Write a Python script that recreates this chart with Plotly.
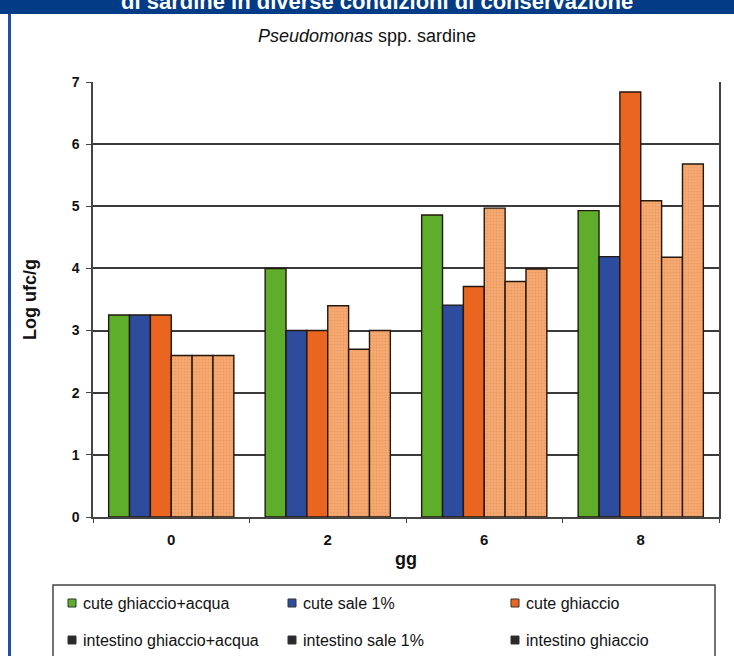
import plotly.graph_objects as go

# ---- data ----
days = ["0", "2", "6", "8"]
series_names = ["cute ghiaccio+acqua", "cute sale 1%", "cute ghiaccio",
                "intestino ghiaccio+acqua", "intestino sale 1%", "intestino ghiaccio"]
cute_ghiaccio_acqua = [3.25, 4.0, 4.86, 4.93]
cute_sale_1 = [3.25, 3.0, 3.41, 4.19]
cute_ghiaccio = [3.25, 3.0, 3.71, 6.84]
intestino_ghiaccio_acqua = [2.6, 3.4, 4.97, 5.09]
intestino_sale_1 = [2.6, 2.7, 3.79, 4.18]
intestino_ghiaccio = [2.6, 3.0, 3.99, 5.68]
y_ticks = [0, 1, 2, 3, 4, 5, 6, 7]

series_values = [cute_ghiaccio_acqua, cute_sale_1, cute_ghiaccio,
                 intestino_ghiaccio_acqua, intestino_sale_1, intestino_ghiaccio]
bar_colors = ["#5fae2b", "#2e4c9e", "#ea6520", "#f4a66d", "#f4a66d", "#f4a66d"]
legend_colors = ["#5fae2b", "#2e4c9e", "#ea6520", "#2a2a2a", "#2a2a2a", "#2a2a2a"]

W, H = 734, 656
L, R, T, B = 93, 719, 82, 517
PW, PH = R - L, B - T


def px(x):
    return (x - L) / PW


def py(y):
    return (B - y) / PH


FONT = "Liberation Sans, Arial, sans-serif"

fig = go.Figure()
for i, (name, vals) in enumerate(zip(series_names, series_values)):
    marker = dict(color=bar_colors[i], line=dict(color="#23170e", width=1.4))
    if i >= 3:
        marker["pattern"] = dict(shape=".", fgcolor="#de8a52", bgcolor="#f5a86f",
                                 size=3, solidity=0.25)
    fig.add_trace(go.Bar(x=days, y=vals, name=name, showlegend=False, marker=marker))

shapes = []
annotations = []

# top banner and left frame
shapes.append(dict(type="rect", xref="paper", yref="paper",
                   x0=px(-5), x1=px(W + 5), y0=py(14), y1=py(-5),
                   fillcolor="#023b86", line=dict(width=0), layer="above"))
shapes.append(dict(type="line", xref="paper", yref="paper",
                   x0=px(9.5), x1=px(9.5), y0=py(14), y1=py(H + 5),
                   line=dict(color="#1f4f9f", width=3)))
annotations.append(dict(xref="paper", yref="paper", x=px(377), y=py(16),
                        xanchor="center", yanchor="bottom", showarrow=False,
                        text="<b>di sardine in diverse condizioni di conservazione</b>",
                        font=dict(family=FONT, size=22, color="white")))

# legend box
shapes.append(dict(type="rect", xref="paper", yref="paper",
                   x0=px(53), x1=px(715), y0=py(H + 10), y1=py(585),
                   fillcolor="white", line=dict(color="#444444", width=1.5)))
col_x = [72, 292, 515]
row_y = [603, 640]
for i, name in enumerate(series_names):
    cx = col_x[i % 3]
    cy = row_y[i // 3]
    shapes.append(dict(type="rect", xref="paper", yref="paper",
                       x0=px(cx - 4), x1=px(cx + 4), y0=py(cy + 4), y1=py(cy - 4),
                       fillcolor=legend_colors[i], line=dict(color="#333333", width=1)))
    annotations.append(dict(xref="paper", yref="paper", x=px(cx + 9), y=py(cy),
                            xanchor="left", yanchor="middle", showarrow=False,
                            text=name, font=dict(family=FONT, size=16, color="#111111")))

fig.update_layout(
    width=W, height=H,
    margin=dict(l=L, r=W - R, t=T, b=H - B, pad=0),
    paper_bgcolor="white", plot_bgcolor="white",
    barmode="group", bargap=0.2, bargroupgap=0,
    title=dict(text="<i>Pseudomonas</i> spp. sardine", xref="container", x=0.5,
               yref="container", y=1 - 36 / H, xanchor="center", yanchor="middle",
               font=dict(family=FONT, size=18, color="#111111")),
    font=dict(family=FONT, color="#111111"),
    shapes=shapes, annotations=annotations,
)
fig.update_xaxes(
    type="category", showline=True, linecolor="#444444", linewidth=1.5,
    ticks="outside", tickson="boundaries", ticklen=4, tickcolor="#444444",
    tickfont=dict(family=FONT, size=15, color="#111111"),
    ticklabelstandoff=8,
    title=dict(text="<b>gg</b>", font=dict(family=FONT, size=18, color="#111111"),
               standoff=6),
)
fig.update_yaxes(
    range=[0, 7], tickvals=y_ticks, ticktext=[f"<b>{v}</b>" for v in y_ticks],
    showgrid=True, gridcolor="#3a3a3a", gridwidth=1.6,
    showline=True, linecolor="#444444", linewidth=1.5, mirror=True,
    ticks="outside", ticklen=5, tickcolor="#444444",
    tickfont=dict(family=FONT, size=14, color="#111111"),
    ticklabelstandoff=4, zeroline=False,
    title=dict(text="<b>Log ufc/g</b>", font=dict(family=FONT, size=18, color="#111111"),
               standoff=30),
)
fig.update_xaxes(tickvals=days, ticktext=[f"<b>{d}</b>" for d in days])

fig.write_html("out.html",
               config={"displayModeBar": False},
               post_script="document.body.style.margin='0';document.body.style.overflow='hidden';")
